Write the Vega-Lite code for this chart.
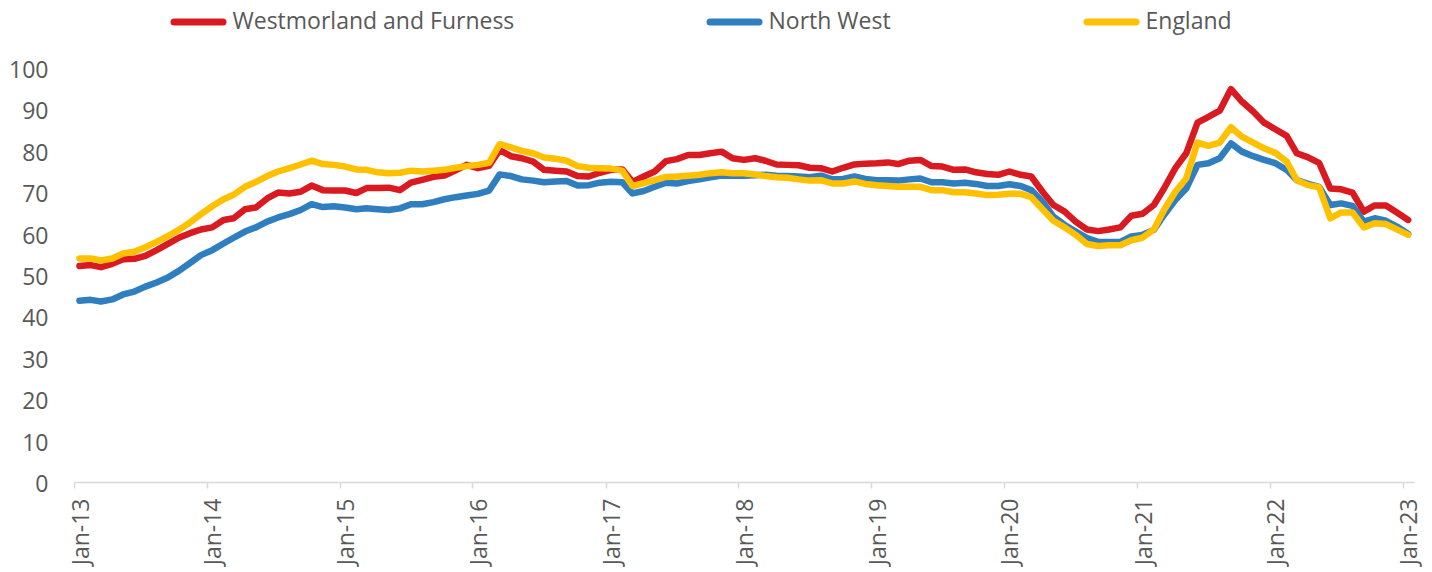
{
  "$schema": "https://vega.github.io/schema/vega-lite/v6.json",
  "width": 1340,
  "height": 414,
  "autosize": {"type": "none"},
  "padding": {"left": 74, "top": 68, "right": 18, "bottom": 90},
  "background": "white",
  "config": {"view": {"stroke": null}, "font": "Open Sans"},
  "data": {"values": [
    {"month": "2013-01-16", "Westmorland and Furness": 52.2, "North West": 43.8, "England": 54.0},
    {"month": "2013-02-16", "Westmorland and Furness": 52.4, "North West": 44.0, "England": 54.0},
    {"month": "2013-03-16", "Westmorland and Furness": 51.9, "North West": 43.6, "England": 53.5},
    {"month": "2013-04-16", "Westmorland and Furness": 52.7, "North West": 44.1, "England": 54.0},
    {"month": "2013-05-16", "Westmorland and Furness": 53.8, "North West": 45.3, "England": 55.2},
    {"month": "2013-06-16", "Westmorland and Furness": 53.9, "North West": 46.0, "England": 55.6},
    {"month": "2013-07-16", "Westmorland and Furness": 54.6, "North West": 47.2, "England": 56.7},
    {"month": "2013-08-16", "Westmorland and Furness": 56.0, "North West": 48.2, "England": 58.0},
    {"month": "2013-09-16", "Westmorland and Furness": 57.5, "North West": 49.4, "England": 59.4},
    {"month": "2013-10-16", "Westmorland and Furness": 59.0, "North West": 51.0, "England": 60.9},
    {"month": "2013-11-16", "Westmorland and Furness": 60.1, "North West": 52.9, "England": 62.7},
    {"month": "2013-12-16", "Westmorland and Furness": 61.0, "North West": 54.8, "England": 64.7},
    {"month": "2014-01-16", "Westmorland and Furness": 61.5, "North West": 56.0, "England": 66.6},
    {"month": "2014-02-16", "Westmorland and Furness": 63.3, "North West": 57.6, "England": 68.3},
    {"month": "2014-03-16", "Westmorland and Furness": 63.7, "North West": 59.0, "England": 69.4},
    {"month": "2014-04-16", "Westmorland and Furness": 65.9, "North West": 60.5, "England": 71.3},
    {"month": "2014-05-16", "Westmorland and Furness": 66.3, "North West": 61.5, "England": 72.5},
    {"month": "2014-06-16", "Westmorland and Furness": 68.5, "North West": 62.9, "England": 73.9},
    {"month": "2014-07-16", "Westmorland and Furness": 69.9, "North West": 63.9, "England": 75.0},
    {"month": "2014-08-16", "Westmorland and Furness": 69.7, "North West": 64.7, "England": 75.8},
    {"month": "2014-09-16", "Westmorland and Furness": 70.1, "North West": 65.7, "England": 76.7},
    {"month": "2014-10-16", "Westmorland and Furness": 71.6, "North West": 67.1, "England": 77.6},
    {"month": "2014-11-16", "Westmorland and Furness": 70.5, "North West": 66.4, "England": 76.8},
    {"month": "2014-12-16", "Westmorland and Furness": 70.4, "North West": 66.6, "England": 76.6},
    {"month": "2015-01-16", "Westmorland and Furness": 70.4, "North West": 66.3, "England": 76.2},
    {"month": "2015-02-16", "Westmorland and Furness": 69.8, "North West": 65.9, "England": 75.5},
    {"month": "2015-03-16", "Westmorland and Furness": 71.0, "North West": 66.1, "England": 75.4},
    {"month": "2015-04-16", "Westmorland and Furness": 71.0, "North West": 65.9, "England": 74.8},
    {"month": "2015-05-16", "Westmorland and Furness": 71.1, "North West": 65.7, "England": 74.6},
    {"month": "2015-06-16", "Westmorland and Furness": 70.5, "North West": 66.1, "England": 74.7},
    {"month": "2015-07-16", "Westmorland and Furness": 72.3, "North West": 67.1, "England": 75.2},
    {"month": "2015-08-16", "Westmorland and Furness": 73.0, "North West": 67.1, "England": 75.0},
    {"month": "2015-09-16", "Westmorland and Furness": 73.7, "North West": 67.6, "England": 75.2},
    {"month": "2015-10-16", "Westmorland and Furness": 74.0, "North West": 68.3, "England": 75.4},
    {"month": "2015-11-16", "Westmorland and Furness": 75.3, "North West": 68.8, "England": 75.9},
    {"month": "2015-12-16", "Westmorland and Furness": 76.6, "North West": 69.2, "England": 76.3},
    {"month": "2016-01-16", "Westmorland and Furness": 75.8, "North West": 69.6, "England": 76.6},
    {"month": "2016-02-16", "Westmorland and Furness": 76.4, "North West": 70.4, "England": 77.1},
    {"month": "2016-03-16", "Westmorland and Furness": 80.2, "North West": 74.3, "England": 81.6},
    {"month": "2016-04-16", "Westmorland and Furness": 78.7, "North West": 73.9, "England": 80.8},
    {"month": "2016-05-16", "Westmorland and Furness": 78.2, "North West": 73.1, "England": 80.0},
    {"month": "2016-06-16", "Westmorland and Furness": 77.4, "North West": 72.8, "England": 79.4},
    {"month": "2016-07-16", "Westmorland and Furness": 75.4, "North West": 72.4, "England": 78.4},
    {"month": "2016-08-16", "Westmorland and Furness": 75.2, "North West": 72.6, "England": 78.1},
    {"month": "2016-09-16", "Westmorland and Furness": 75.0, "North West": 72.7, "England": 77.6},
    {"month": "2016-10-16", "Westmorland and Furness": 73.9, "North West": 71.6, "England": 76.3},
    {"month": "2016-11-16", "Westmorland and Furness": 73.8, "North West": 71.7, "England": 75.9},
    {"month": "2016-12-16", "Westmorland and Furness": 74.7, "North West": 72.3, "England": 75.8},
    {"month": "2017-01-16", "Westmorland and Furness": 75.4, "North West": 72.5, "England": 75.7},
    {"month": "2017-02-16", "Westmorland and Furness": 75.5, "North West": 72.4, "England": 75.2},
    {"month": "2017-03-16", "Westmorland and Furness": 72.5, "North West": 69.7, "England": 71.5},
    {"month": "2017-04-16", "Westmorland and Furness": 73.8, "North West": 70.3, "England": 72.2},
    {"month": "2017-05-16", "Westmorland and Furness": 75.0, "North West": 71.3, "England": 72.9},
    {"month": "2017-06-16", "Westmorland and Furness": 77.5, "North West": 72.3, "England": 73.7},
    {"month": "2017-07-16", "Westmorland and Furness": 78.0, "North West": 72.1, "England": 73.8},
    {"month": "2017-08-16", "Westmorland and Furness": 79.0, "North West": 72.7, "England": 74.0},
    {"month": "2017-09-16", "Westmorland and Furness": 79.0, "North West": 73.1, "England": 74.2},
    {"month": "2017-10-16", "Westmorland and Furness": 79.4, "North West": 73.6, "England": 74.6},
    {"month": "2017-11-16", "Westmorland and Furness": 79.8, "North West": 74.0, "England": 74.8},
    {"month": "2017-12-16", "Westmorland and Furness": 78.2, "North West": 74.0, "England": 74.6},
    {"month": "2018-01-16", "Westmorland and Furness": 77.8, "North West": 74.0, "England": 74.6},
    {"month": "2018-02-16", "Westmorland and Furness": 78.2, "North West": 74.1, "England": 74.3},
    {"month": "2018-03-16", "Westmorland and Furness": 77.6, "North West": 74.2, "England": 73.9},
    {"month": "2018-04-16", "Westmorland and Furness": 76.7, "North West": 74.0, "England": 73.6},
    {"month": "2018-05-16", "Westmorland and Furness": 76.6, "North West": 73.9, "England": 73.5},
    {"month": "2018-06-16", "Westmorland and Furness": 76.5, "North West": 73.8, "England": 73.1},
    {"month": "2018-07-16", "Westmorland and Furness": 75.9, "North West": 73.6, "England": 72.8},
    {"month": "2018-08-16", "Westmorland and Furness": 75.8, "North West": 74.0, "England": 72.9},
    {"month": "2018-09-16", "Westmorland and Furness": 75.0, "North West": 73.1, "England": 72.1},
    {"month": "2018-10-16", "Westmorland and Furness": 75.9, "North West": 73.2, "England": 72.1},
    {"month": "2018-11-16", "Westmorland and Furness": 76.7, "North West": 73.8, "England": 72.6},
    {"month": "2018-12-16", "Westmorland and Furness": 76.9, "North West": 73.2, "England": 72.0},
    {"month": "2019-01-16", "Westmorland and Furness": 77.0, "North West": 72.9, "England": 71.7},
    {"month": "2019-02-16", "Westmorland and Furness": 77.2, "North West": 72.9, "England": 71.5},
    {"month": "2019-03-16", "Westmorland and Furness": 76.8, "North West": 72.8, "England": 71.3},
    {"month": "2019-04-16", "Westmorland and Furness": 77.6, "North West": 73.1, "England": 71.3},
    {"month": "2019-05-16", "Westmorland and Furness": 77.8, "North West": 73.3, "England": 71.3},
    {"month": "2019-06-16", "Westmorland and Furness": 76.3, "North West": 72.4, "England": 70.5},
    {"month": "2019-07-16", "Westmorland and Furness": 76.2, "North West": 72.4, "England": 70.5},
    {"month": "2019-08-16", "Westmorland and Furness": 75.4, "North West": 72.1, "England": 70.0},
    {"month": "2019-09-16", "Westmorland and Furness": 75.5, "North West": 72.3, "England": 70.0},
    {"month": "2019-10-16", "Westmorland and Furness": 74.8, "North West": 72.0, "England": 69.7},
    {"month": "2019-11-16", "Westmorland and Furness": 74.4, "North West": 71.5, "England": 69.3},
    {"month": "2019-12-16", "Westmorland and Furness": 74.2, "North West": 71.5, "England": 69.4},
    {"month": "2020-01-16", "Westmorland and Furness": 75.0, "North West": 71.9, "England": 69.6},
    {"month": "2020-02-16", "Westmorland and Furness": 74.2, "North West": 71.5, "England": 69.6},
    {"month": "2020-03-16", "Westmorland and Furness": 73.8, "North West": 70.5, "England": 68.8},
    {"month": "2020-04-16", "Westmorland and Furness": 70.1, "North West": 67.7, "England": 65.9},
    {"month": "2020-05-16", "Westmorland and Furness": 66.9, "North West": 64.1, "England": 63.1},
    {"month": "2020-06-16", "Westmorland and Furness": 65.3, "North West": 62.1, "England": 61.5},
    {"month": "2020-07-16", "Westmorland and Furness": 62.9, "North West": 60.5, "England": 59.7},
    {"month": "2020-08-16", "Westmorland and Furness": 61.0, "North West": 58.9, "England": 57.5},
    {"month": "2020-09-16", "Westmorland and Furness": 60.6, "North West": 58.0, "England": 57.0},
    {"month": "2020-10-16", "Westmorland and Furness": 61.0, "North West": 58.0, "England": 57.2},
    {"month": "2020-11-16", "Westmorland and Furness": 61.5, "North West": 58.0, "England": 57.2},
    {"month": "2020-12-16", "Westmorland and Furness": 64.3, "North West": 59.3, "England": 58.4},
    {"month": "2021-01-16", "Westmorland and Furness": 64.8, "North West": 59.7, "England": 59.0},
    {"month": "2021-02-16", "Westmorland and Furness": 66.9, "North West": 60.9, "England": 61.0},
    {"month": "2021-03-16", "Westmorland and Furness": 70.9, "North West": 64.5, "England": 65.7},
    {"month": "2021-04-16", "Westmorland and Furness": 75.8, "North West": 68.1, "England": 70.1},
    {"month": "2021-05-16", "Westmorland and Furness": 79.4, "North West": 70.9, "England": 73.3},
    {"month": "2021-06-16", "Westmorland and Furness": 86.8, "North West": 76.6, "England": 82.0},
    {"month": "2021-07-16", "Westmorland and Furness": 88.2, "North West": 77.0, "England": 81.2},
    {"month": "2021-08-16", "Westmorland and Furness": 89.7, "North West": 78.2, "England": 82.0},
    {"month": "2021-09-16", "Westmorland and Furness": 94.9, "North West": 81.8, "England": 85.7},
    {"month": "2021-10-16", "Westmorland and Furness": 91.9, "North West": 79.8, "England": 83.4},
    {"month": "2021-11-16", "Westmorland and Furness": 89.5, "North West": 78.7, "England": 82.0},
    {"month": "2021-12-16", "Westmorland and Furness": 86.8, "North West": 77.8, "England": 80.6},
    {"month": "2022-01-16", "Westmorland and Furness": 85.2, "North West": 77.0, "England": 79.5},
    {"month": "2022-02-16", "Westmorland and Furness": 83.6, "North West": 75.4, "England": 77.4},
    {"month": "2022-03-16", "Westmorland and Furness": 79.4, "North West": 72.9, "England": 72.9},
    {"month": "2022-04-16", "Westmorland and Furness": 78.4, "North West": 72.0, "England": 71.7},
    {"month": "2022-05-16", "Westmorland and Furness": 77.1, "North West": 71.3, "England": 71.2},
    {"month": "2022-06-16", "Westmorland and Furness": 70.9, "North West": 66.9, "England": 63.7},
    {"month": "2022-07-16", "Westmorland and Furness": 70.7, "North West": 67.3, "England": 65.1},
    {"month": "2022-08-16", "Westmorland and Furness": 69.9, "North West": 66.7, "England": 65.1},
    {"month": "2022-09-16", "Westmorland and Furness": 65.3, "North West": 62.9, "England": 61.5},
    {"month": "2022-10-16", "Westmorland and Furness": 66.8, "North West": 63.7, "England": 62.5},
    {"month": "2022-11-16", "Westmorland and Furness": 66.8, "North West": 63.1, "England": 62.3},
    {"month": "2022-12-16", "Westmorland and Furness": 65.1, "North West": 61.7, "England": 61.0},
    {"month": "2023-01-16", "Westmorland and Furness": 63.3, "North West": 59.9, "England": 59.7}
  ]},
  "transform": [
    {"fold": ["Westmorland and Furness", "North West", "England"], "as": ["series", "value"]}
  ],
  "mark": {"type": "line", "strokeWidth": 6.5, "strokeCap": "round", "strokeJoin": "round"},
  "encoding": {
    "x": {
      "field": "month",
      "type": "temporal",
      "scale": {
        "type": "utc",
        "domain": [
          {"year": 2013, "month": 1, "date": 1, "utc": true},
          {"year": 2023, "month": 2, "date": 1, "utc": true}
        ]
      },
      "axis": {
        "values": [
          {"year": 2013, "month": 1, "date": 1, "utc": true},
          {"year": 2014, "month": 1, "date": 1, "utc": true},
          {"year": 2015, "month": 1, "date": 1, "utc": true},
          {"year": 2016, "month": 1, "date": 1, "utc": true},
          {"year": 2017, "month": 1, "date": 1, "utc": true},
          {"year": 2018, "month": 1, "date": 1, "utc": true},
          {"year": 2019, "month": 1, "date": 1, "utc": true},
          {"year": 2020, "month": 1, "date": 1, "utc": true},
          {"year": 2021, "month": 1, "date": 1, "utc": true},
          {"year": 2022, "month": 1, "date": 1, "utc": true},
          {"year": 2023, "month": 1, "date": 1, "utc": true}
        ],
        "format": "%b-%y",
        "title": null,
        "grid": false,
        "labelAngle": -90,
        "labelFont": "Open Sans",
        "labelFontSize": 23,
        "labelColor": "#595959",
        "labelPadding": 10,
        "labelOffset": 7,
        "labelOverlap": false,
        "labelFlush": false,
        "labelBound": false,
        "tickSize": 6,
        "tickColor": "#d9d9d9",
        "tickWidth": 1.5,
        "domainColor": "#d9d9d9",
        "domainWidth": 1.5
      }
    },
    "y": {
      "field": "value",
      "type": "quantitative",
      "scale": {"domain": [0, 100], "nice": false},
      "axis": {
        "values": [0, 10, 20, 30, 40, 50, 60, 70, 80, 90, 100],
        "title": null,
        "grid": false,
        "domain": false,
        "ticks": false,
        "labelFont": "Open Sans",
        "labelFontSize": 23,
        "labelColor": "#595959",
        "labelPadding": 26,
        "labelOffset": 2.5
      }
    },
    "color": {
      "field": "series",
      "type": "nominal",
      "scale": {
        "domain": ["Westmorland and Furness", "North West", "England"],
        "range": ["#DA1A21", "#2E7EC0", "#FFC000"]
      },
      "legend": {
        "title": null,
        "orient": "none",
        "legendX": 96.5,
        "legendY": -74,
        "direction": "horizontal",
        "symbolType": "stroke",
        "symbolSize": 2401,
        "symbolStrokeWidth": 7,
        "labelFont": "Open Sans",
        "labelFontSize": 23,
        "labelColor": "#595959",
        "labelOffset": 6,
        "labelLimit": 500,
        "columnPadding": 181,
        "padding": 0,
        "encode": {"symbols": {"update": {"strokeCap": {"value": "round"}}}}
      }
    }
  }
}
